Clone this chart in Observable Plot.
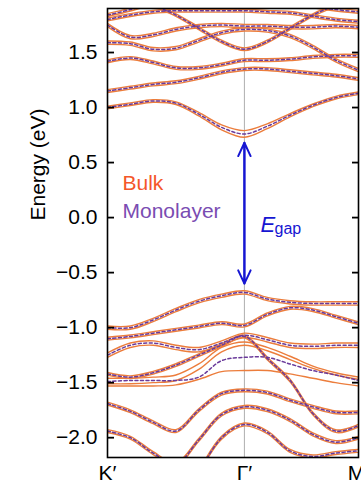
<!DOCTYPE html>
<html><head><meta charset="utf-8">
<script src="https://cdn.jsdelivr.net/npm/d3@7"></script>
<script src="https://cdn.jsdelivr.net/npm/@observablehq/plot@0.6"></script>
<style>body{margin:0;background:#fff} svg{display:block}</style>
</head><body><div id="chart"></div>
<script>
// k-path positions: K' = 0, Γ' = 1.2, M' = 2.2
const k = [0, 0.2, 0.4, 0.6, 0.8, 1.0, 1.2, 1.4, 1.6, 1.8, 2.0, 2.2];
const kTicks = [0, 1.2, 2.2];
const kLabels = ["K′", "Γ′", "M′"];
const yTicks = [-2, -1.5, -1, -0.5, 0, 0.5, 1, 1.5];
const gammaK = 1.2;
const gapTop = 0.68;
const gapBottom = -0.60;

// Bands present in both bulk (split pair) and monolayer (dashed)
const cb1 = [1.00, 1.03, 1.06, 1.04, 0.94, 0.82, 0.76, 0.83, 0.93, 1.02, 1.09, 1.13];
const cb2 = [1.15, 1.18, 1.21, 1.23, 1.27, 1.32, 1.35, 1.35, 1.33, 1.31, 1.29, 1.26];
const cb3 = [1.42, 1.45, 1.41, 1.36, 1.36, 1.39, 1.43, 1.43, 1.44, 1.46, 1.47, 1.47];
const cb4 = [1.59, 1.58, 1.53, 1.54, 1.61, 1.68, 1.71, 1.70, 1.65, 1.55, 1.43, 1.34];
const cb5 = [2.10, 2.02, 1.93, 1.84, 1.72, 1.60, 1.53, 1.60, 1.72, 1.84, 1.93, 2.00];
const cb6 = [1.75, 1.64, 1.66, 1.71, 1.74, 1.75, 1.74, 1.74, 1.73, 1.73, 1.74, 1.73];
const cb7 = [1.80, 1.84, 1.87, 1.88, 1.88, 1.88, 1.88, 1.87, 1.86, 1.83, 1.80, 1.78];
const cb8 = [1.84, 1.89, 1.95, 2.00, 2.02, 2.02, 2.02, 2.00, 1.96, 1.92, 1.89, 1.87];
const v1 = [-1.00, -1.00, -0.93, -0.84, -0.76, -0.71, -0.68, -0.74, -0.77, -0.78, -0.78, -0.78];
const v2 = [-1.10, -1.08, -1.05, -1.02, -0.99, -0.96, -0.98, -0.88, -0.82, -0.84, -0.90, -0.96];
const v3 = [-1.25, -1.16, -1.14, -1.18, -1.20, -1.14, -1.07, -1.11, -1.16, -1.17, -1.16, -1.16];
const vS = [-1.42, -1.45, -1.41, -1.34, -1.25, -1.16, -1.08, -1.28, -1.48, -1.78, -1.94, -1.89];
const v7 = [-1.69, -1.76, -1.86, -1.94, -1.75, -1.60, -1.57, -1.59, -1.66, -1.72, -1.77, -1.77];
const v8 = [-1.94, -2.00, -2.14, -2.24, -2.02, -1.79, -1.72, -1.75, -1.84, -1.97, -2.04, -2.00];
const v9 = [null, null, null, null, -2.32, -2.00, -1.88, -1.95, -2.12, -2.17, -2.14, -2.12];

const pairedNames = ["cb1","cb2","cb3","cb4","cb5","cb6","cb7","cb8","v1","v2","v3","vS","v7","v8","v9"];
const pairedValues = [cb1, cb2, cb3, cb4, cb5, cb6, cb7, cb8, v1, v2, v3, vS, v7, v8, v9];
const cb1Split = [0.012, 0.012, 0.012, 0.012, 0.015, 0.022, 0.03, 0.022, 0.015, 0.012, 0.012, 0.012];
const pairedSplit = [cb1Split, 0.013, 0.013, 0.015, 0.012, 0.015, 0.013, 0.013, 0.015, 0.013, 0.02, 0.012, 0.013, 0.013, 0.013];

// Monolayer-only band (dashed) and bulk-only bands (solid)
const m6 = [-1.49, -1.48, -1.48, -1.48, -1.45, -1.30, -1.27, -1.27, -1.33, -1.39, -1.43, -1.48];
const ba = [-1.46, -1.46, -1.45, -1.43, -1.33, -1.18, -1.13, -1.18, -1.26, -1.35, -1.41, -1.45];
const bb = [-1.51, -1.51, -1.50, -1.48, -1.38, -1.22, -1.16, -1.21, -1.29, -1.37, -1.43, -1.47];
const bc = [-1.53, -1.53, -1.53, -1.52, -1.47, -1.40, -1.39, -1.39, -1.42, -1.46, -1.50, -1.53];
const monoOnlyNames = ["m6"];
const monoOnlyValues = [m6];
const bulkOnlyNames = ["ba", "bb", "bc"];
const bulkOnlyValues = [ba, bb, bc];

const bulkColor = "#ec7d3c";
const monoColor = "#6a3a9a";
const bulkText = "#f4572a";
const monoText = "#7a4cb2";
const gapColor = "#1616d2";

const bulkRows = [], monoRows = [];
pairedValues.forEach((vals, i) => {
  const sp = pairedSplit[i];
  vals.forEach((v, j) => {
    if (v == null) return;
    const s = Array.isArray(sp) ? sp[j] : sp;
    bulkRows.push({k: k[j], E: v + s, id: pairedNames[i] + "+"});
    bulkRows.push({k: k[j], E: v - s, id: pairedNames[i] + "-"});
    monoRows.push({k: k[j], E: v, id: pairedNames[i]});
  });
});
bulkOnlyValues.forEach((vals, i) => vals.forEach((v, j) => bulkRows.push({k: k[j], E: v, id: bulkOnlyNames[i]})));
monoOnlyValues.forEach((vals, i) => vals.forEach((v, j) => monoRows.push({k: k[j], E: v, id: monoOnlyNames[i]})));

const gapRows = [{k: gammaK, from: gapBottom, to: gapTop}, {k: gammaK, from: gapTop, to: gapBottom}];

const fmt = d3.format(".1f");
const chart = Plot.plot({
  width: 361, height: 488,
  marginLeft: 107, marginRight: 3, marginTop: 8, marginBottom: 31,
  x: {domain: [0, 2.2], label: null},
  y: {domain: [-2.18, 1.9], label: null},
  style: {fontFamily: "'Liberation Sans', Arial, sans-serif", background: "white", color: "black"},
  marks: [
    Plot.ruleX([gammaK], {stroke: "#9a9a9a", strokeWidth: 0.8}),
    Plot.line(bulkRows, {x: "k", y: "E", z: "id", stroke: bulkColor, strokeWidth: 1.4, curve: "catmull-rom", clip: true}),
    Plot.line(monoRows, {x: "k", y: "E", z: "id", stroke: monoColor, strokeWidth: 1.5, strokeDasharray: "3,2.5", curve: "catmull-rom", clip: true}),
    Plot.arrow(gapRows, {x1: "k", x2: "k", y1: "from", y2: "to", stroke: gapColor, strokeWidth: 2, headLength: 11, headAngle: 50}),
    Plot.axisY(yTicks, {anchor: "left", tickSize: 7, dx: 7, tickPadding: 10, tickFormat: fmt, fontSize: 21, strokeWidth: 1.8, label: null}),
    Plot.axisY(yTicks, {anchor: "right", tickSize: 7, dx: -7, tickFormat: () => "", strokeWidth: 1.8, label: null}),
    Plot.axisX(kTicks, {anchor: "bottom", tickSize: 0, tickPadding: 8, tickFormat: d => kLabels[kTicks.indexOf(d)], fontSize: 21, label: null}),
    Plot.frame({stroke: "black", strokeWidth: 1.6}),
    Plot.text(["Energy (eV)"], {frameAnchor: "top-left", dx: -77, dy: 212, rotate: -90, fontSize: 21, fill: "black"}),
    Plot.text(["Bulk"], {frameAnchor: "top-left", dx: 15, dy: 167, textAnchor: "start", fontSize: 21, fill: bulkText}),
    Plot.text(["Monolayer"], {frameAnchor: "top-left", dx: 15, dy: 195, textAnchor: "start", fontSize: 21, fill: monoText}),
    Plot.text(["E"], {frameAnchor: "top-left", dx: 153, dy: 208, textAnchor: "start", fontSize: 22, fontStyle: "italic", fill: gapColor}),
    Plot.text(["gap"], {frameAnchor: "top-left", dx: 167, dy: 214, textAnchor: "start", fontSize: 16, fill: gapColor})
  ]
});
document.getElementById("chart").appendChild(chart);
</script>
</body></html>
